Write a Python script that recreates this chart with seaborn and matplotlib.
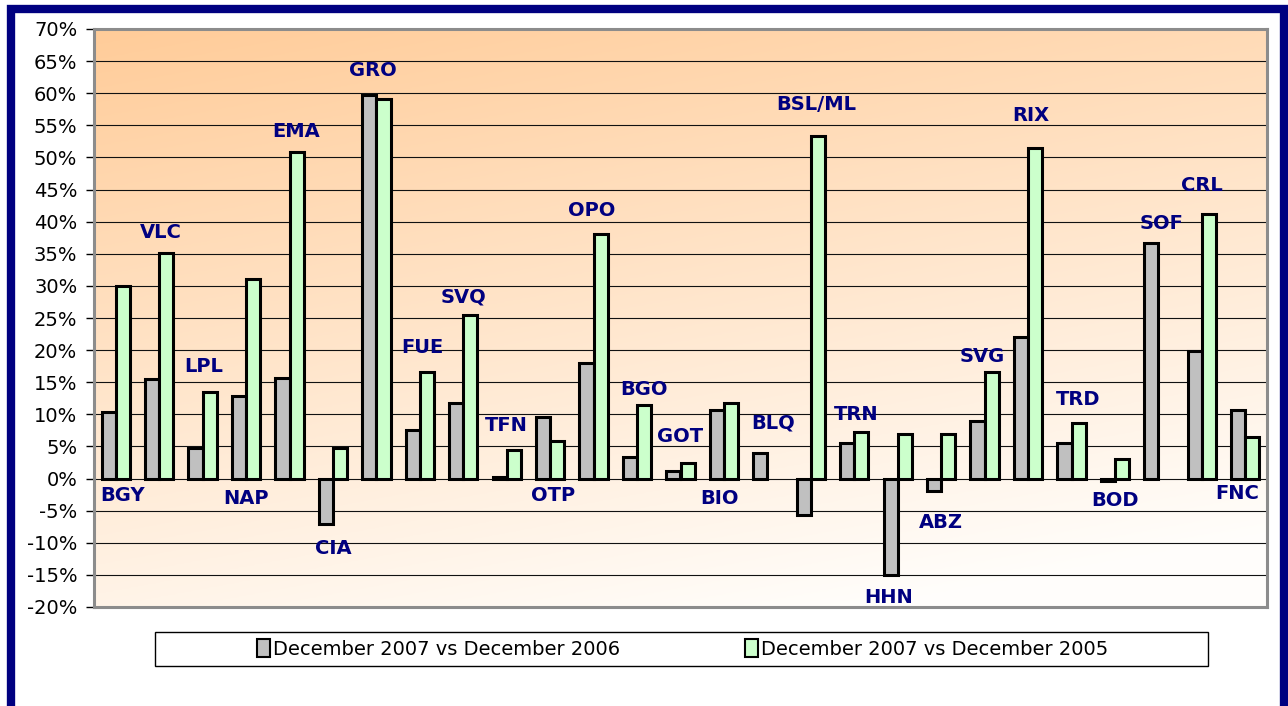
import numpy as np
import pandas as pd
import seaborn as sns
import matplotlib.pyplot as plt
from matplotlib.patches import Rectangle, Patch
from matplotlib.ticker import FuncFormatter

airports = ["BGY", "VLC", "LPL", "NAP", "EMA", "CIA", "GRO", "FUE", "SVQ", "TFN",
            "OTP", "OPO", "BGO", "GOT", "BIO", "BLQ", "BSL/ML", "TRN", "HHN", "ABZ",
            "SVG", "RIX", "TRD", "BOD", "SOF", "CRL", "FNC"]
series = ["December 2007 vs December 2006", "December 2007 vs December 2005"]
vs_2006 = [10.4, 15.5, 4.7, 12.9, 15.7, -7.0, 59.7, 7.6, 11.7, 0.3,
           9.6, 18.0, 3.3, 1.1, 10.6, 4.0, -5.6, 5.6, -15.0, -2.0,
           8.9, 22.1, 5.6, -0.4, 36.7, 19.9, 10.7]
vs_2005 = [30.0, 35.1, 13.4, 31.1, 50.9, 4.8, 59.1, 16.6, 25.5, 4.4,
           5.9, 38.1, 11.5, 2.5, 11.7, np.nan, 53.3, 7.3, 7.0, 7.0,
           16.6, 51.5, 8.6, 3.0, np.nan, 41.2, 6.4]

# where the airport names sit (value axis, %) and a small sideways nudge
label_y = [-2.6, 38.3, 17.4, -3.1, 54.1, -10.9, 63.6, 20.4, 28.3, 8.2,
           -2.6, 41.8, 13.8, 6.5, -3.1, 8.7, 58.2, 10.0, -18.5, -6.8,
           19.0, 56.5, 12.3, -3.4, 39.7, 45.6, -2.3]
label_dx = [0.15, 0.05, 0.03, 0.0, 0.15, 0.0, -0.08, 0.05, 0.0, 0.0,
            0.07, -0.05, 0.16, 0.0, -0.1, 0.13, 0.12, 0.05, -0.2, 0.0,
            -0.05, 0.07, 0.15, 0.0, 0.07, 0.0, -0.18]

df = pd.DataFrame({
    "airport": airports * 2,
    "period": [series[0]] * len(airports) + [series[1]] * len(airports),
    "change": vs_2006 + vs_2005,
})

W, H = 1288, 706
fig = plt.figure(figsize=(W / 100, H / 100), dpi=100)
pos = [94 / W, 1 - 607 / H, (1267 - 94) / W, (607 - 29) / H]

# gradient background of the plot area
bg = fig.add_axes(pos, zorder=0)
gx, gy = np.meshgrid(np.linspace(0, 1, 300), np.linspace(0, 1, 200))
t = np.clip(0.3 * gx + 0.8 * gy, 0, 1)
c0 = np.array([1.0, 0.80, 0.60])
c1 = np.array([1.0, 0.995, 0.985])
img = c0 + (c1 - c0) * t[..., None]
bg.imshow(img, extent=[0, 1, 0, 1], aspect="auto", origin="upper")
bg.axis("off")

ax = fig.add_axes(pos, zorder=1)
ax.patch.set_alpha(0)
sns.barplot(data=df, x="airport", y="change", hue="period", order=airports,
            hue_order=series, palette=["#C0C0C0", "#CCFFCC"], width=0.65,
            edgecolor="black", linewidth=2.2, saturation=1, legend=False, ax=ax)

ax.set_ylim(-20, 70)
ax.set_xlim(-0.5, len(airports) - 0.5)
ax.set_yticks(range(-20, 71, 5))
ax.yaxis.set_major_formatter(FuncFormatter(lambda v, p: f"{v:.0f}%"))
ax.yaxis.grid(True, color="#111111", lw=0.8)
ax.set_axisbelow(True)
ax.set_xticks([])
ax.set_xlabel("")
ax.set_ylabel("")
ax.tick_params(axis="y", labelsize=14, length=6, width=1, pad=6, colors="black")
for s in ax.spines.values():
    s.set_color("#8C8C8C")
    s.set_linewidth(2.2)

for i, name in enumerate(airports):
    ax.text(i + label_dx[i], label_y[i], name, ha="center", va="center",
            fontsize=14, fontweight="bold", color="#000080", zorder=5)

# legend box and entries
fig.patches.append(Rectangle((155 / W, 1 - 666 / H), 1053 / W, 34 / H,
                             transform=fig.transFigure, fill=False,
                             edgecolor="black", lw=1))
handles = [Patch(facecolor="#C0C0C0", edgecolor="black", lw=1.5),
           Patch(facecolor="#CCFFCC", edgecolor="black", lw=1.5)]
fig.legend(handles, series, loc="center", bbox_to_anchor=(0.53, 1 - 649 / H),
           ncol=2, frameon=False, fontsize=14, handlelength=0.7,
           handleheight=1.0, handletextpad=0.15, columnspacing=6.4)

# navy outer frame
fig.patches.append(Rectangle((11 / W, -0.05), (1284 - 11) / W, 1 - 9 / H + 0.05,
                             transform=fig.transFigure, fill=False,
                             edgecolor="#000080", lw=6))

fig.savefig("out.png", dpi=100)
